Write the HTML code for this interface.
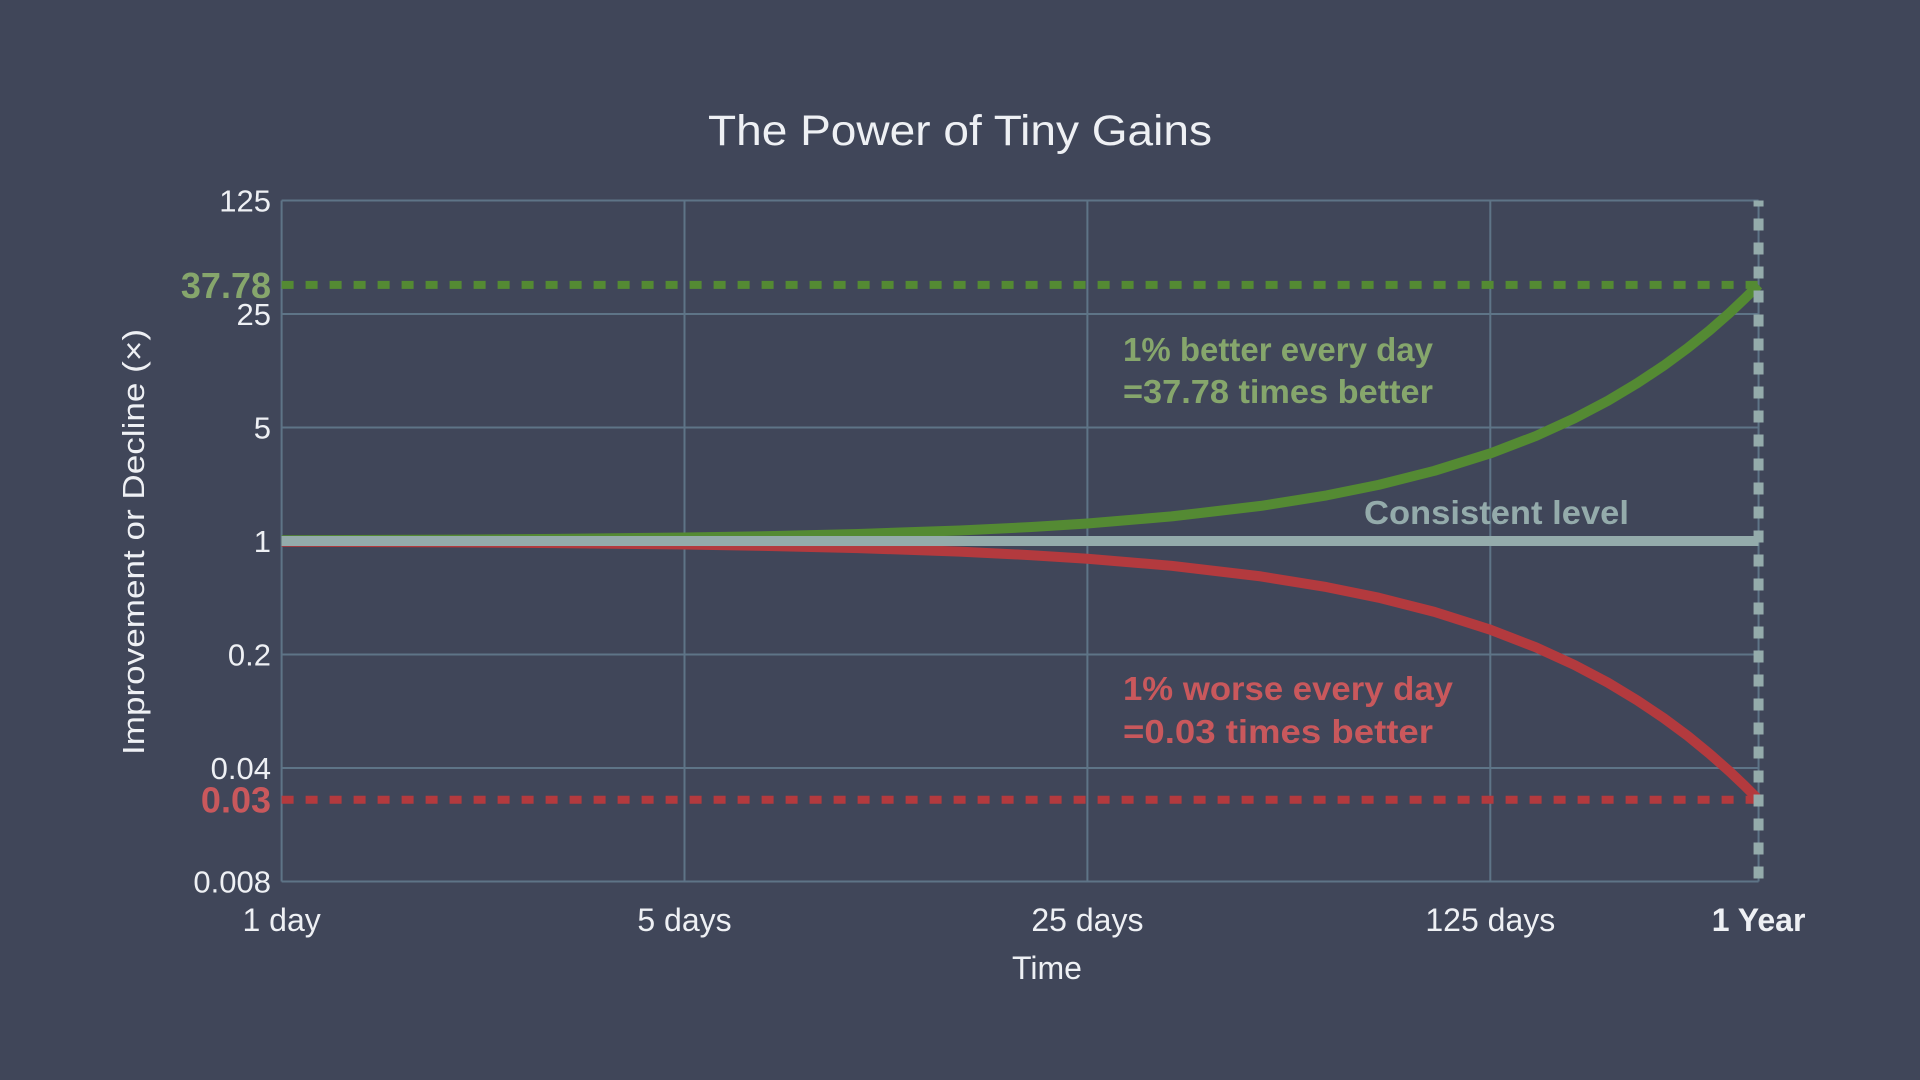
<!DOCTYPE html>
<html><head><meta charset="utf-8"><style>
html,body{margin:0;padding:0;background:#404659;}
svg{display:block;font-family:"Liberation Sans",sans-serif;}
</style></head><body>
<svg id="chart" width="1920" height="1080" viewBox="0 0 1920 1080" xmlns="http://www.w3.org/2000/svg">
<rect width="1920" height="1080" fill="#404659"/>
<text x="960" y="145" text-anchor="middle" fill="#eef0f4" font-size="43" textLength="504" lengthAdjust="spacingAndGlyphs">The Power of Tiny Gains</text>
<g id="grid"></g>
<g id="series"></g>
<g id="labels"></g>
<text x="1047" y="979" text-anchor="middle" fill="#eef0f4" font-size="32">Time</text>
<text transform="translate(144,542) rotate(-90)" text-anchor="middle" fill="#eef0f4" font-size="31" textLength="426" lengthAdjust="spacingAndGlyphs">Improvement or Decline (×)</text>
<text x="1123" y="361" fill="#86a66c" font-size="33" font-weight="bold" textLength="310" lengthAdjust="spacingAndGlyphs">1% better every day</text>
<text x="1123" y="403" fill="#86a66c" font-size="33" font-weight="bold" textLength="310" lengthAdjust="spacingAndGlyphs">=37.78 times better</text>
<text x="1364" y="524" fill="#94abab" font-size="33" font-weight="bold" textLength="265" lengthAdjust="spacingAndGlyphs">Consistent level</text>
<text x="1123" y="700" fill="#c9585c" font-size="33" font-weight="bold" textLength="330" lengthAdjust="spacingAndGlyphs">1% worse every day</text>
<text x="1123" y="743" fill="#c9585c" font-size="33" font-weight="bold" textLength="310" lengthAdjust="spacingAndGlyphs">=0.03 times better</text>
</svg>
<script>
const xTicks = [1, 5, 25, 125];
const xTickLabels = ["1 day", "5 days", "25 days", "125 days"];
const yTicks = [125, 25, 5, 1, 0.2, 0.04, 0.008];
const yTickLabels = ["125", "25", "5", "1", "0.2", "0.04", "0.008"];
const days = [1,2,3,5,7,10,15,20,25,35,50,65,80,100,125,150,175,200,225,250,275,300,325,345,365];
const better = [1.01,1.02,1.0303,1.051,1.0721,1.105,1.161,1.2202,1.2824,1.4166,1.6446,1.9094,2.2167,2.7048,3.4634,4.4346,5.70,7.3160,9.38,12.0321,15.43,19.7885,25.37,30.96,37.78];
const worse = [0.99,0.98,0.9703,0.951,0.9321,0.9044,0.8601,0.8179,0.7778,0.7034,0.605,0.5204,0.4475,0.366,0.2843,0.2215,0.1723,0.134,0.1042,0.0811,0.0631,0.049,0.0381,0.0312,0.0255];
const consistent = [1,1];
const finalDay = 365;
const betterFinal = 37.78, worseFinal = 0.0255;
const betterLabel = "37.78", worseLabel = "0.03";

const NS = "http://www.w3.org/2000/svg";
const L5 = Math.log(5);
function xs(d){ return 281.6 + Math.log(d)/L5*402.9; }
function ys(v){ return 541 - Math.log(v)/L5*113.5; }
function mk(tag, attrs, parent){ const e=document.createElementNS(NS,tag); for(const k in attrs) e.setAttribute(k,attrs[k]); parent.appendChild(e); return e; }
const gridG=document.getElementById('grid'), seriesG=document.getElementById('series'), labelsG=document.getElementById('labels');
const yTop=ys(125), yBot=ys(0.008), xLeft=xs(1), xRight=xs(finalDay);
const gc="#5e7487";
yTicks.forEach((t,i)=>{
  const l=mk('line',{x1:xLeft,x2:xRight,y1:ys(t),y2:ys(t),stroke:gc,'stroke-width':2},gridG);
  
  
  const tx=mk('text',{x:271,y:ys(t)+11,'text-anchor':'end',fill:'#eef0f4','font-size':31},labelsG);
  tx.textContent=yTickLabels[i];
  
  
});
xTicks.forEach((t,i)=>{
  const l=mk('line',{x1:xs(t),x2:xs(t),y1:yTop,y2:yBot,stroke:gc,'stroke-width':2},gridG);
  
  
  const tx=mk('text',{x:xs(t),y:931,'text-anchor':'middle',fill:'#eef0f4','font-size':32},labelsG);
  tx.textContent=xTickLabels[i];
  
  
});
const rl=mk('line',{x1:xRight,x2:xRight,y1:yTop,y2:yBot,stroke:gc,'stroke-width':2},gridG);


const yl=mk('text',{x:xRight,y:931,'text-anchor':'middle',fill:'#eef0f4','font-size':32,'font-weight':'bold'},labelsG);
yl.textContent="1 Year";



const gd=mk('line',{x1:xLeft,x2:xRight,y1:ys(betterFinal),y2:ys(betterFinal),stroke:'#548a33','stroke-width':8,'stroke-dasharray':'12 12'},seriesG);


const rd=mk('line',{x1:xLeft,x2:xRight,y1:ys(worseFinal),y2:ys(worseFinal),stroke:'#b33a3e','stroke-width':8,'stroke-dasharray':'12 12'},seriesG);


const gl=mk('text',{x:271,y:ys(betterFinal)+13,'text-anchor':'end',fill:'#86a66c','font-size':36,'font-weight':'bold'},labelsG);
gl.textContent=betterLabel;


const wl=mk('text',{x:271,y:ys(worseFinal)+13,'text-anchor':'end',fill:'#c9585c','font-size':36,'font-weight':'bold'},labelsG);
wl.textContent=worseLabel;



function path(vals){ return days.map((d,i)=>(i?'L':'M')+xs(d).toFixed(1)+','+ys(vals[i]).toFixed(1)).join(' '); }
const wp=mk('path',{d:path(worse),fill:'none',stroke:'#b33a3e','stroke-width':10,'stroke-linejoin':'round'},seriesG);


const bp=mk('path',{d:path(better),fill:'none',stroke:'#548a33','stroke-width':10,'stroke-linejoin':'round'},seriesG);


const cl=mk('line',{x1:xLeft,x2:xRight,y1:ys(consistent[0]),y2:ys(consistent[1]),stroke:'#94abab','stroke-width':10},seriesG);


const vd=mk('line',{x1:xRight,x2:xRight,y1:yTop,y2:yBot,stroke:'#94abab','stroke-width':10,'stroke-dasharray':'12 12','stroke-dashoffset':6},seriesG);


</script>
</body></html>
